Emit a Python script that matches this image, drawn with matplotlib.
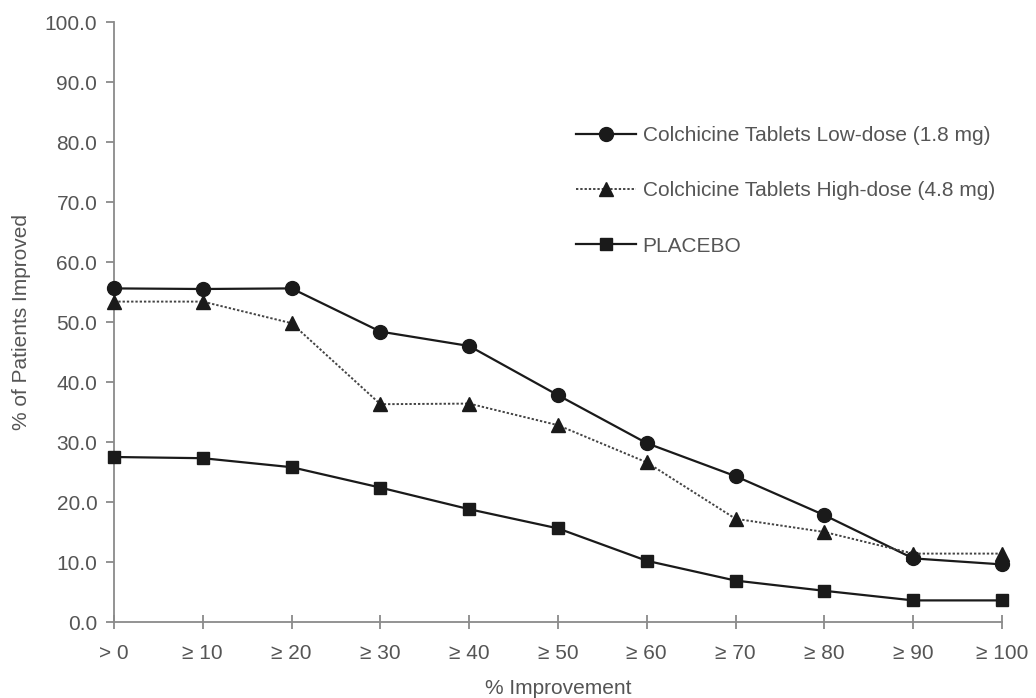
import matplotlib
matplotlib.use('Agg')
import matplotlib.pyplot as plt

plt.rcParams['font.family'] = ['Liberation Sans', 'DejaVu Sans']

categories = ['> 0', '≥ 10', '≥ 20', '≥ 30', '≥ 40', '≥ 50', '≥ 60', '≥ 70', '≥ 80', '≥ 90', '≥ 100']
low_dose = [55.6, 55.5, 55.6, 48.4, 46.0, 37.8, 29.8, 24.3, 17.8, 10.6, 9.6]
high_dose = [53.4, 53.4, 49.8, 36.3, 36.4, 32.8, 26.6, 17.2, 15.0, 11.4, 11.4]
placebo = [27.5, 27.3, 25.8, 22.4, 18.8, 15.6, 10.2, 6.9, 5.2, 3.6, 3.6]

series_names = ['Colchicine Tablets Low-dose (1.8 mg)',
                'Colchicine Tablets High-dose (4.8 mg)',
                'PLACEBO']

text_col = '#555555'
axis_col = '#8a8a8a'
line_col = '#1a1a1a'

fig = plt.figure(figsize=(10.36, 6.98), dpi=100)
ax = fig.add_axes([114 / 1036, 1 - 622 / 698, (1002 - 114) / 1036, 600 / 698])

x = list(range(len(categories)))
ax.plot(x, low_dose, color=line_col, lw=1.6, marker='o', ms=10, clip_on=False,
        label=series_names[0], zorder=3)
ax.plot(x, high_dose, color='#444444', lw=1.4, ls=(0, (1.2, 1.0)), marker='^', ms=10,
        mfc=line_col, mec=line_col, clip_on=False, label=series_names[1], zorder=3)
ax.plot(x, placebo, color=line_col, lw=1.6, marker='s', ms=9, clip_on=False,
        label=series_names[2], zorder=3)

ax.set_xlim(0, len(categories) - 1)
ax.set_ylim(0, 100)
ax.set_xticks(x)
ax.set_xticklabels(categories)
ax.set_yticks(range(0, 101, 10))
ax.set_yticklabels(['%.1f' % v for v in range(0, 101, 10)])

for side in ['top', 'right']:
    ax.spines[side].set_visible(False)
for side in ['left', 'bottom']:
    ax.spines[side].set_color(axis_col)
    ax.spines[side].set_linewidth(1.3)

ax.tick_params(axis='x', direction='inout', length=10, width=1.3, color=axis_col,
               labelsize=15, labelcolor=text_col, pad=11)
ax.tick_params(axis='y', direction='out', length=6, width=1.3, color=axis_col,
               labelsize=15, labelcolor=text_col, pad=6)

fig.text(558 / 1036, 1 - 688 / 698, '% Improvement', ha='center', va='center',
         fontsize=15, color=text_col)
fig.text(22 / 1036, 1 - 322 / 698, '% of Patients Improved', ha='center', va='center',
         rotation=90, fontsize=15, color=text_col)

leg = ax.legend(loc='upper left', bbox_to_anchor=(576 / 1036, 1 - 126 / 698),
                bbox_transform=fig.transFigure, frameon=False, fontsize=15,
                handlelength=2.9, handletextpad=0.3, labelspacing=1.74,
                borderaxespad=0, borderpad=0)
for t in leg.get_texts():
    t.set_color(text_col)

plt.savefig('out.png', dpi=100)
plt.close()
